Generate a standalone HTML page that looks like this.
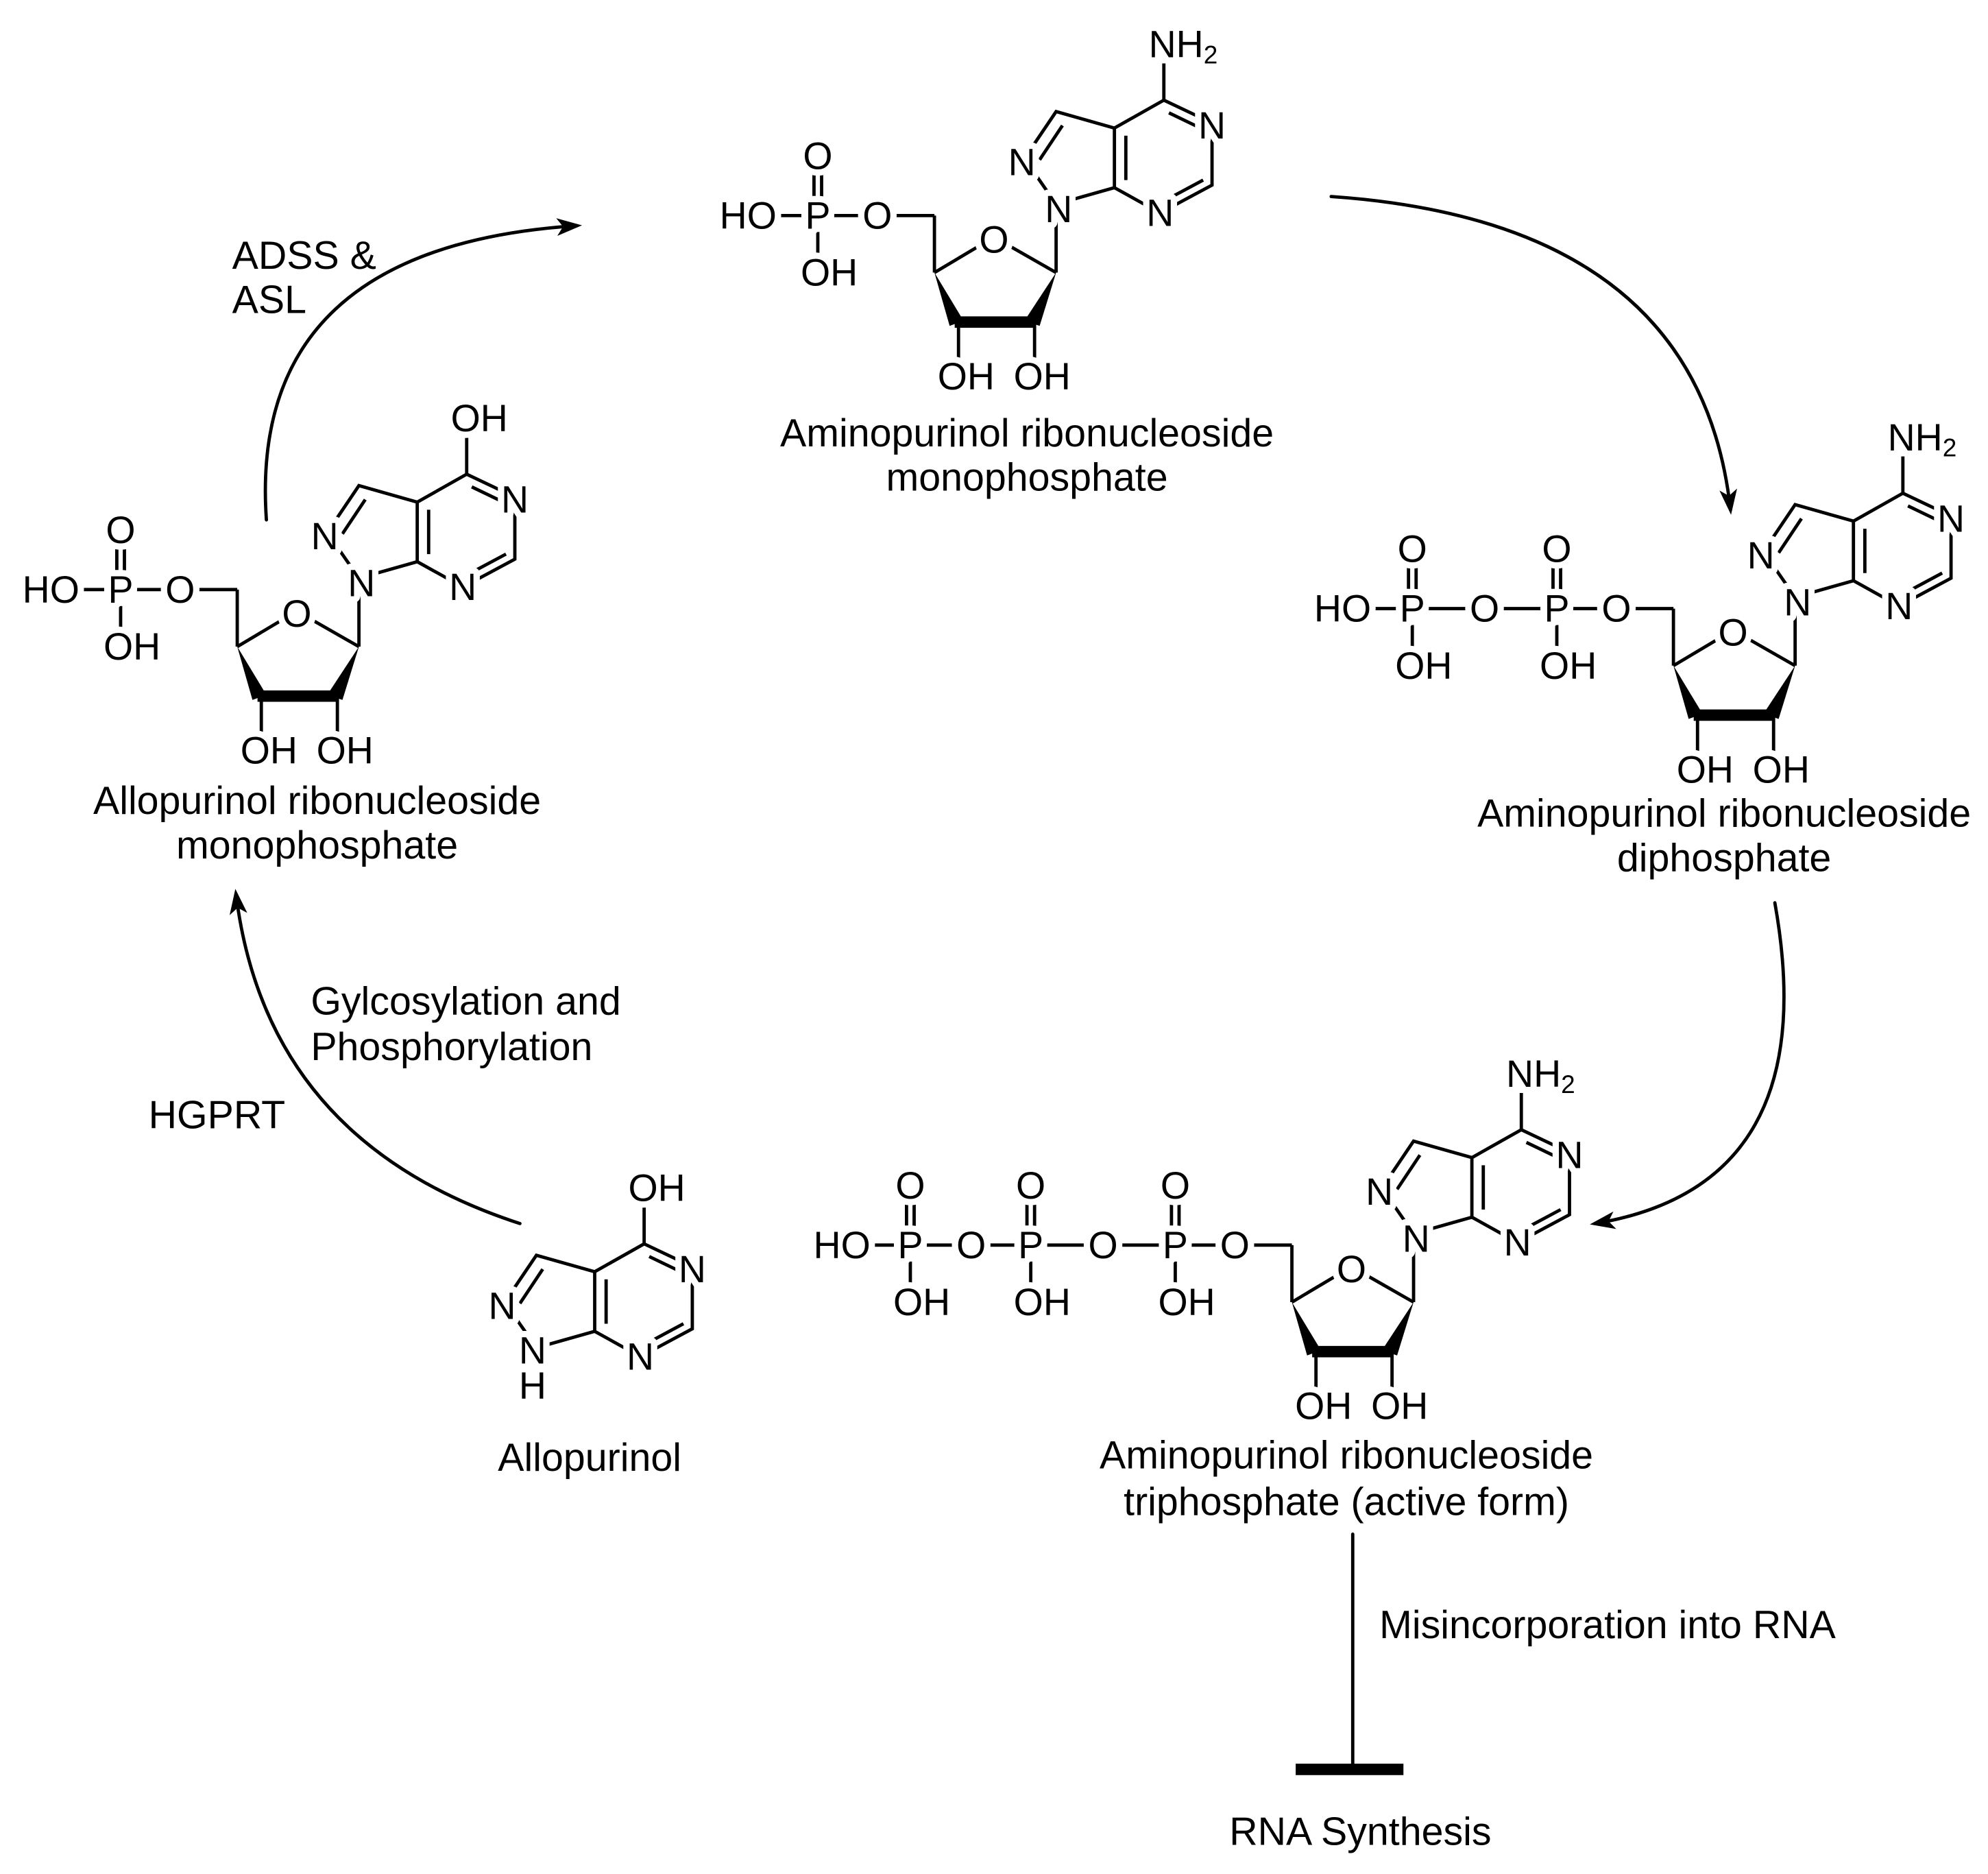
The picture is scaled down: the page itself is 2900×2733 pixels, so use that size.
<!DOCTYPE html>
<html><head><meta charset="utf-8"><style>
html,body{margin:0;padding:0;background:#fff}
svg{display:block}
text{font-family:"Liberation Sans",Arial,sans-serif;font-size:31px;fill:#000}
.a{font-size:30px;text-anchor:middle;dominant-baseline:central;stroke:#fff;stroke-width:10px;stroke-linejoin:round;paint-order:stroke}
.s{font-size:20px;stroke:none}
.l{text-anchor:middle}
.w{fill:#fff;stroke:none}
</style></head><body>
<svg width="2900" height="2733" viewBox="0 0 1568 1478" xmlns="http://www.w3.org/2000/svg">
<defs>
<marker id="ah" markerWidth="20" markerHeight="14" refX="16" refY="7" orient="auto" markerUnits="userSpaceOnUse">
<path d="M0,0 L20,7 L0,14 L5,7 z" fill="#000"/>
</marker>
</defs>
<g stroke="#000" stroke-width="2.6" fill="none" stroke-linecap="round">
<path d="M410,965 Q210,900 186,705" marker-end="url(#ah)"/>
<path d="M210,410 Q195,195 455,178" marker-end="url(#ah)"/>
<path d="M1050,155 Q1340,175 1365,402" marker-end="url(#ah)"/>
<path d="M1400,712 Q1440,935 1258,965" marker-end="url(#ah)"/>
<line x1="1067" y1="1210" x2="1067" y2="1395"/>
</g>
<rect x="1022" y="1391" width="85" height="9" fill="#000"/>

<g id="left">
 <g stroke="#000" stroke-width="2.6" fill="none">
  <polyline points="368,374 406,392 406,441 365,463 329,443 329,396 368,374"/>
  <polyline points="329,396 283,383 258,420 283,456 329,443"/>
  <line x1="288" y1="394" x2="270" y2="421"/>
  <line x1="372" y1="384" x2="399" y2="397"/>
  <line x1="338" y1="402" x2="338" y2="437"/>
  <line x1="399" y1="437" x2="371" y2="452"/>
  <line x1="368" y1="374" x2="368" y2="345"/>
  <line x1="283" y1="456" x2="283" y2="510"/>
  <polyline points="283,510 234,482 187,510"/>
  <line x1="187" y1="510" x2="187" y2="465"/>
  <line x1="187" y1="465" x2="37" y2="465"/>
  <line x1="92" y1="430" x2="92" y2="452"/><line x1="98" y1="430" x2="98" y2="452"/>
  <line x1="95" y1="470" x2="95" y2="495"/>
  <line x1="206" y1="549" x2="206" y2="578"/>
  <line x1="266" y1="549" x2="266" y2="578"/>
 </g>
 <polygon points="187,510 199,552 210,548" fill="#000"/>
 <polygon points="283,510 258,548 270,552" fill="#000"/>
 <line x1="203" y1="549" x2="267" y2="549" stroke="#000" stroke-width="9"/>
 <circle class="w" cx="234" cy="484" r="14"/><circle class="w" cx="142" cy="465" r="14"/><circle class="w" cx="95" cy="465" r="13"/><rect class="w" x="18" y="450" width="45" height="30"/>
 <text class="a" x="378" y="330">OH</text>
 <text class="a" x="406" y="394">N</text>
 <text class="a" x="365" y="463">N</text>
 <text class="a" x="256" y="423">N</text>
 <text class="a" x="285" y="460">N</text>
 <text class="a" x="234" y="484">O</text>
 <text class="a" x="142" y="465">O</text>
 <text class="a" x="95" y="465">P</text>
 <text class="a" x="40" y="465">HO</text>
 <text class="a" x="95" y="418">O</text>
 <text class="a" x="104" y="510">OH</text>
 <text class="a" x="212" y="592">OH</text>
 <text class="a" x="272" y="592">OH</text>
</g>
<text class="l" x="250" y="642">Allopurinol ribonucleoside</text>
<text class="l" x="250" y="677">monophosphate</text>

<g transform="translate(550,-295)">
 <g stroke="#000" stroke-width="2.6" fill="none">
  <polyline points="368,374 406,392 406,441 365,463 329,443 329,396 368,374"/>
  <polyline points="329,396 283,383 258,420 283,456 329,443"/>
  <line x1="288" y1="394" x2="270" y2="421"/>
  <line x1="372" y1="384" x2="399" y2="397"/>
  <line x1="338" y1="402" x2="338" y2="437"/>
  <line x1="399" y1="437" x2="371" y2="452"/>
  <line x1="368" y1="374" x2="368" y2="345"/>
  <line x1="283" y1="456" x2="283" y2="510"/>
  <polyline points="283,510 234,482 187,510"/>
  <line x1="187" y1="510" x2="187" y2="465"/>
  <line x1="187" y1="465" x2="37" y2="465"/>
  <line x1="92" y1="430" x2="92" y2="452"/><line x1="98" y1="430" x2="98" y2="452"/>
  <line x1="95" y1="470" x2="95" y2="495"/>
  <line x1="206" y1="549" x2="206" y2="578"/>
  <line x1="266" y1="549" x2="266" y2="578"/>
 </g>
 <polygon points="187,510 199,552 210,548" fill="#000"/>
 <polygon points="283,510 258,548 270,552" fill="#000"/>
 <line x1="203" y1="549" x2="267" y2="549" stroke="#000" stroke-width="9"/>
 <circle class="w" cx="234" cy="484" r="14"/><circle class="w" cx="142" cy="465" r="14"/><circle class="w" cx="95" cy="465" r="13"/><rect class="w" x="18" y="450" width="45" height="30"/>
 <text class="a" x="356" y="330" style="text-anchor:start">NH<tspan class="s" dy="8">2</tspan></text>
 <text class="a" x="406" y="394">N</text>
 <text class="a" x="365" y="463">N</text>
 <text class="a" x="256" y="423">N</text>
 <text class="a" x="285" y="460">N</text>
 <text class="a" x="234" y="484">O</text>
 <text class="a" x="142" y="465">O</text>
 <text class="a" x="95" y="465">P</text>
 <text class="a" x="40" y="465">HO</text>
 <text class="a" x="95" y="418">O</text>
 <text class="a" x="104" y="510">OH</text>
 <text class="a" x="212" y="592">OH</text>
 <text class="a" x="272" y="592">OH</text>
</g>
<text class="l" x="810" y="352">Aminopurinol ribonucleoside</text>
<text class="l" x="810" y="387">monophosphate</text>

<g transform="translate(1133,15)">
 <g stroke="#000" stroke-width="2.6" fill="none">
  <polyline points="368,374 406,392 406,441 365,463 329,443 329,396 368,374"/>
  <polyline points="329,396 283,383 258,420 283,456 329,443"/>
  <line x1="288" y1="394" x2="270" y2="421"/>
  <line x1="372" y1="384" x2="399" y2="397"/>
  <line x1="338" y1="402" x2="338" y2="437"/>
  <line x1="399" y1="437" x2="371" y2="452"/>
  <line x1="368" y1="374" x2="368" y2="345"/>
  <line x1="283" y1="456" x2="283" y2="510"/>
  <polyline points="283,510 234,482 187,510"/>
  <line x1="187" y1="510" x2="187" y2="465"/>
  <line x1="187" y1="465" x2="-75" y2="465"/>
  <line x1="92" y1="430" x2="92" y2="452"/><line x1="98" y1="430" x2="98" y2="452"/>
  <line x1="95" y1="470" x2="95" y2="495"/>
  <line x1="-22" y1="430" x2="-22" y2="452"/><line x1="-16" y1="430" x2="-16" y2="452"/>
  <line x1="-19" y1="470" x2="-19" y2="495"/>
  <line x1="206" y1="549" x2="206" y2="578"/>
  <line x1="266" y1="549" x2="266" y2="578"/>
 </g>
 <polygon points="187,510 199,552 210,548" fill="#000"/>
 <polygon points="283,510 258,548 270,552" fill="#000"/>
 <line x1="203" y1="549" x2="267" y2="549" stroke="#000" stroke-width="9"/>
 <circle class="w" cx="234" cy="484" r="14"/><circle class="w" cx="142" cy="465" r="14"/><circle class="w" cx="95" cy="465" r="13"/><circle class="w" cx="38" cy="465" r="14"/><circle class="w" cx="-19" cy="465" r="13"/><rect class="w" x="-97" y="450" width="45" height="30"/>
 <text class="a" x="356" y="330" style="text-anchor:start">NH<tspan class="s" dy="8">2</tspan></text>
 <text class="a" x="406" y="394">N</text>
 <text class="a" x="365" y="463">N</text>
 <text class="a" x="256" y="423">N</text>
 <text class="a" x="285" y="460">N</text>
 <text class="a" x="234" y="484">O</text>
 <text class="a" x="142" y="465">O</text>
 <text class="a" x="95" y="465">P</text>
 <text class="a" x="95" y="418">O</text>
 <text class="a" x="104" y="510">OH</text>
 <text class="a" x="38" y="465">O</text>
 <text class="a" x="-19" y="465">P</text>
 <text class="a" x="-19" y="418">O</text>
 <text class="a" x="-10" y="510">OH</text>
 <text class="a" x="-74" y="465">HO</text>
 <text class="a" x="212" y="592">OH</text>
 <text class="a" x="272" y="592">OH</text>
</g>
<text class="l" x="1360" y="652">Aminopurinol ribonucleoside</text>
<text class="l" x="1360" y="687">diphosphate</text>

<g transform="translate(832,517)">
 <g stroke="#000" stroke-width="2.6" fill="none">
  <polyline points="368,374 406,392 406,441 365,463 329,443 329,396 368,374"/>
  <polyline points="329,396 283,383 258,420 283,456 329,443"/>
  <line x1="288" y1="394" x2="270" y2="421"/>
  <line x1="372" y1="384" x2="399" y2="397"/>
  <line x1="338" y1="402" x2="338" y2="437"/>
  <line x1="399" y1="437" x2="371" y2="452"/>
  <line x1="368" y1="374" x2="368" y2="345"/>
  <line x1="283" y1="456" x2="283" y2="510"/>
  <polyline points="283,510 234,482 187,510"/>
  <line x1="187" y1="510" x2="187" y2="465"/>
  <line x1="187" y1="465" x2="-168" y2="465"/>
  <line x1="92" y1="430" x2="92" y2="452"/><line x1="98" y1="430" x2="98" y2="452"/>
  <line x1="95" y1="470" x2="95" y2="495"/>
  <line x1="-22" y1="430" x2="-22" y2="452"/><line x1="-16" y1="430" x2="-16" y2="452"/>
  <line x1="-19" y1="470" x2="-19" y2="495"/>
  <line x1="-117" y1="430" x2="-117" y2="452"/><line x1="-111" y1="430" x2="-111" y2="452"/>
  <line x1="-114" y1="470" x2="-114" y2="495"/>
  <line x1="206" y1="549" x2="206" y2="578"/>
  <line x1="266" y1="549" x2="266" y2="578"/>
 </g>
 <polygon points="187,510 199,552 210,548" fill="#000"/>
 <polygon points="283,510 258,548 270,552" fill="#000"/>
 <line x1="203" y1="549" x2="267" y2="549" stroke="#000" stroke-width="9"/>
 <circle class="w" cx="234" cy="484" r="14"/><circle class="w" cx="142" cy="465" r="14"/><circle class="w" cx="95" cy="465" r="13"/><circle class="w" cx="38" cy="465" r="14"/><circle class="w" cx="-19" cy="465" r="13"/><circle class="w" cx="-66" cy="465" r="14"/><circle class="w" cx="-114" cy="465" r="13"/><rect class="w" x="-191" y="450" width="45" height="30"/>
 <text class="a" x="356" y="330" style="text-anchor:start">NH<tspan class="s" dy="8">2</tspan></text>
 <text class="a" x="406" y="394">N</text>
 <text class="a" x="365" y="463">N</text>
 <text class="a" x="256" y="423">N</text>
 <text class="a" x="285" y="460">N</text>
 <text class="a" x="234" y="484">O</text>
 <text class="a" x="142" y="465">O</text>
 <text class="a" x="95" y="465">P</text>
 <text class="a" x="95" y="418">O</text>
 <text class="a" x="104" y="510">OH</text>
 <text class="a" x="38" y="465">O</text>
 <text class="a" x="-19" y="465">P</text>
 <text class="a" x="-19" y="418">O</text>
 <text class="a" x="-10" y="510">OH</text>
 <text class="a" x="-66" y="465">O</text>
 <text class="a" x="-114" y="465">P</text>
 <text class="a" x="-114" y="418">O</text>
 <text class="a" x="-105" y="510">OH</text>
 <text class="a" x="-168" y="465">HO</text>
 <text class="a" x="212" y="592">OH</text>
 <text class="a" x="272" y="592">OH</text>
</g>
<text class="l" x="1062" y="1158">Aminopurinol ribonucleoside</text>
<text class="l" x="1062" y="1195">triphosphate (active form)</text>

<g transform="translate(140,607)">
 <g stroke="#000" stroke-width="2.6" fill="none">
  <polyline points="368,374 406,392 406,441 365,463 329,443 329,396 368,374"/>
  <polyline points="329,396 283,383 258,420 283,456 329,443"/>
  <line x1="288" y1="394" x2="270" y2="421"/>
  <line x1="372" y1="384" x2="399" y2="397"/>
  <line x1="338" y1="402" x2="338" y2="437"/>
  <line x1="399" y1="437" x2="371" y2="452"/>
  <line x1="368" y1="374" x2="368" y2="345"/>
 </g>
 <text class="a" x="378" y="330">OH</text>
 <text class="a" x="406" y="394">N</text>
 <text class="a" x="365" y="463">N</text>
 <text class="a" x="256" y="423">N</text>
 <text class="a" x="280" y="458">N</text>
 <text class="a" x="280" y="486">H</text>
</g>
<text class="l" x="465" y="1160">Allopurinol</text>

<text x="183" y="212">ADSS &amp;</text>
<text x="183" y="247">ASL</text>
<text x="245" y="800">Gylcosylation and</text>
<text x="245" y="836">Phosphorylation</text>
<text x="117" y="890">HGPRT</text>
<text x="1088" y="1292">Misincorporation into RNA</text>
<text class="l" x="1073" y="1455">RNA Synthesis</text>
</svg>
</body></html>
